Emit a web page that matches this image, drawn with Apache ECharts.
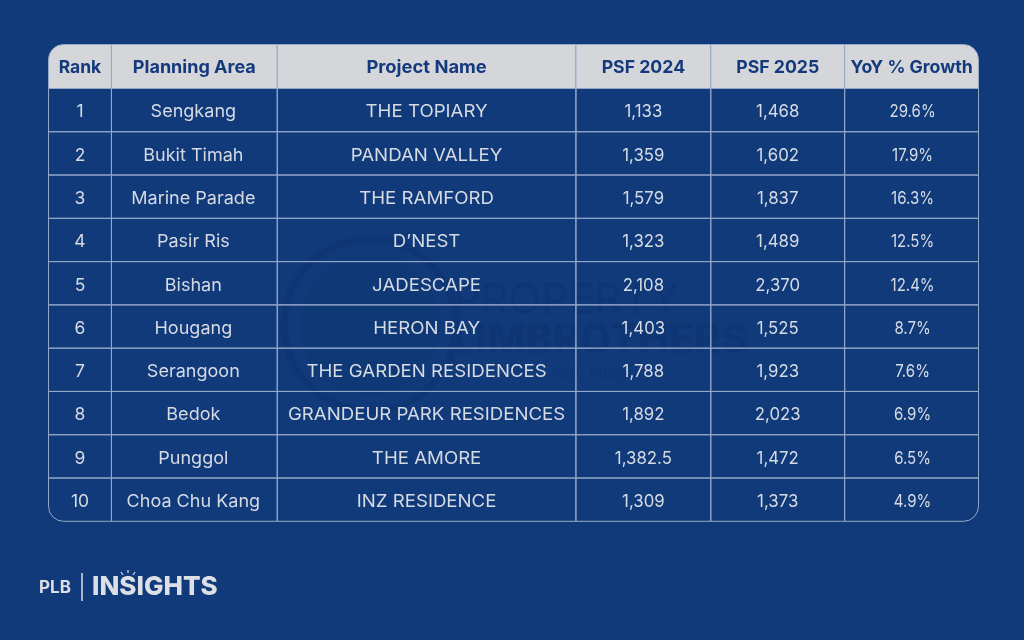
<!DOCTYPE html>
<html><head><meta charset="utf-8">
<style>html,body{margin:0;padding:0;background:#113a7b}#c{width:1024px;height:640px}</style>
<script src="https://cdn.jsdelivr.net/npm/echarts@6/dist/echarts.min.js"></script>
</head><body><div id="c"></div>
<script>
const headers = ['Rank','Planning Area','Project Name','PSF 2024','PSF 2025','YoY % Growth'];
const ranks = [1,2,3,4,5,6,7,8,9,10];
const areas = ['Sengkang','Bukit Timah','Marine Parade','Pasir Ris','Bishan','Hougang','Serangoon','Bedok','Punggol','Choa Chu Kang'];
const projects = ['THE TOPIARY','PANDAN VALLEY','THE RAMFORD','D\u2019NEST','JADESCAPE','HERON BAY','THE GARDEN RESIDENCES','GRANDEUR PARK RESIDENCES','THE AMORE','INZ RESIDENCE'];
const psf2024 = [1133,1359,1579,1323,2108,1403,1788,1892,1382.5,1309];
const psf2025 = [1468,1602,1837,1489,2370,1525,1923,2023,1472,1373];
const growth = [29.6,17.9,16.3,12.5,12.4,8.7,7.6,6.9,6.5,4.9];

const columnEdges = [0,63,229,528,663,797,931];
const bodyStretch = [1,1.03,1.065,0.96,0.96,0.86];
const bodyShift = [0,-1,0,0,0,1];
const headStretch = [1,1.03,1.05,1.01,1.01,1.01];
const BG='#113a7b', HEAD='#d4d6da', LINE='#95a8c9', HEADTXT='#14397c', TXT='#d5dae3', WM='#0f3674';
const FONT='Inter, "Open Sans", sans-serif';
const fmt = v => v.toLocaleString('en-US');
const cols = [ranks.map(String), areas, projects, psf2024.map(fmt), psf2025.map(fmt), growth.map(v=>v.toFixed(1)+'%')];
const nCol = headers.length, nRow = ranks.length;
const cells = [];
headers.forEach((h,c)=>cells.push([columnEdges[c],-1.016,columnEdges[c+1],0,h,c,-1]));
cols.forEach((col,c)=>col.forEach((t,r)=>cells.push([columnEdges[c],r,columnEdges[c+1],r+1,t,c,r])));

function renderItem(params, api){
  const p0 = api.coord([api.value(0),api.value(1)]);
  const p1 = api.coord([api.value(2),api.value(3)]);
  const c = api.value(5), r = api.value(6), head = r===-1;
  const R = 15;
  let radius = 0;
  if(head && c===0) radius=[R,0,0,0];
  else if(head && c===nCol-1) radius=[0,R,0,0];
  else if(r===nRow-1 && c===0) radius=[0,0,0,R];
  else if(r===nRow-1 && c===nCol-1) radius=[0,0,R,0];
  const cx=(p0[0]+p1[0])/2+(head?0:bodyShift[c]), cy=(p0[1]+p1[1])/2+(head?1.5:2);
  return {type:'group',children:[
    {type:'rect',shape:{x:p0[0],y:p0[1],width:p1[0]-p0[0],height:p1[1]-p0[1],r:radius},
     style:{fill:head?HEAD:'transparent',stroke:LINE,lineWidth:1},z2:head?1:2},
    {type:'text',z2:5,x:cx,y:cy,scaleX:(head?headStretch:bodyStretch)[c],
     style:{x:0,y:0,text:api.value(4),align:'center',verticalAlign:'middle',
      fill:head?HEADTXT:TXT,font:(head?'700 17.5px ':'400 17.5px ')+FONT}}
  ]};
}
const chart = echarts.init(document.getElementById('c'),null,{renderer:'canvas'});
chart.setOption({
  animation:false,backgroundColor:BG,
  grid:{left:48.5,top:44.5,width:930,height:476.8},
  xAxis:{type:'value',min:0,max:931,show:false},
  yAxis:{type:'value',min:-1.016,max:10,inverse:true,show:false},
  series:[{type:'custom',coordinateSystem:'cartesian2d',clip:false,silent:true,renderItem,
    dimensions:['x0','y0','x1','y1',{name:'text',type:'ordinal'},'col','row'],
    encode:{x:[0,2],y:[1,3]},data:cells}],
  graphic:[
    {type:'circle',z:-5,shape:{cx:370,cy:325,r:86},style:{fill:'transparent',stroke:WM,lineWidth:7}},
    {type:'circle',z:-5,shape:{cx:370,cy:325,r:70},style:{fill:WM,opacity:.55}},
    {type:'text',z:-5,style:{x:453,y:301,text:'PROPERTY',fill:WM,font:'400 43px '+FONT,verticalAlign:'middle'}},
    {type:'text',z:-5,style:{x:452,y:341,text:'LIMBROTHERS',fill:WM,font:'800 41px '+FONT,verticalAlign:'middle'}},
    {type:'text',z:-5,style:{x:553,y:374,text:'with Integrity',fill:WM,font:'400 16px '+FONT,verticalAlign:'middle'}},
    {type:'text',style:{x:39,y:588,text:'PLB',fill:'#dcdfe5',font:'700 17px '+FONT,verticalAlign:'middle'}},
    {type:'line',shape:{x1:82,y1:573,x2:82,y2:601},style:{stroke:'#dcdfe5',lineWidth:1.5}},
    {type:'text',style:{x:92,y:587,text:'INSIGHTS',fill:'#dcdfe5',font:'800 26px '+FONT,verticalAlign:'middle'}},
    {type:'line',shape:{x1:123,y1:575,x2:121,y2:572},style:{stroke:'#dcdfe5',lineWidth:1.2}},
    {type:'line',shape:{x1:128,y1:573,x2:128,y2:570},style:{stroke:'#dcdfe5',lineWidth:1.2}},
    {type:'line',shape:{x1:133,y1:575,x2:135,y2:572},style:{stroke:'#dcdfe5',lineWidth:1.2}}
  ]
});
</script></body></html>
